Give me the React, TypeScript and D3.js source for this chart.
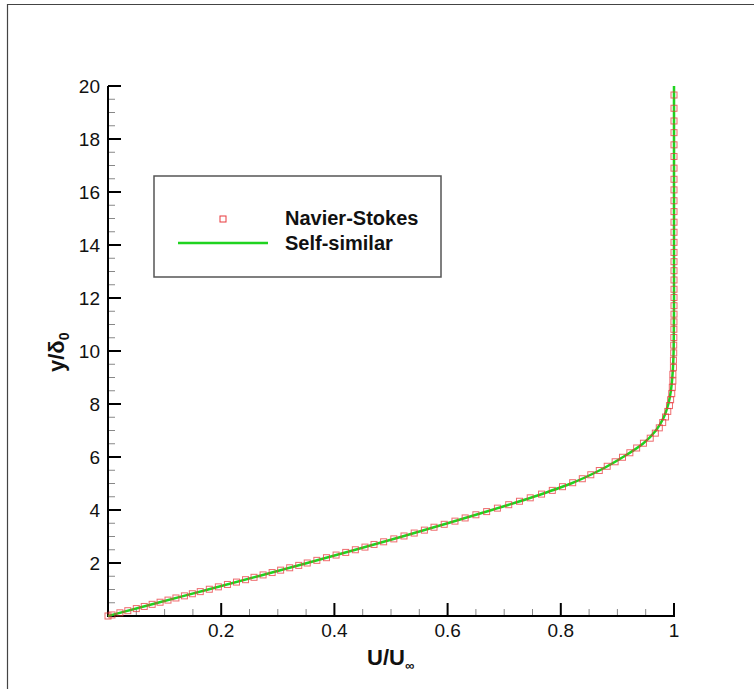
import React from "react";
import * as d3 from "d3";

// Navier-Stokes samples (y/delta0, U/Uinf)
const nsY = [0, 0.04, 0.12, 0.2, 0.28, 0.36, 0.44, 0.52, 0.6, 0.68, 0.76, 0.84, 0.92, 1.01, 1.1, 1.19, 1.28, 1.37, 1.46, 1.55, 1.64, 1.73, 1.82, 1.91, 2.0, 2.1, 2.2, 2.3, 2.4, 2.5, 2.6, 2.7, 2.8, 2.91, 3.02, 3.13, 3.24, 3.35, 3.46, 3.58, 3.7, 3.82, 3.94, 4.07, 4.2, 4.33, 4.46, 4.6, 4.74, 4.88, 5.03, 5.18, 5.33, 5.49, 5.65, 5.82, 5.99, 6.16, 6.34, 6.52, 6.71, 6.9, 7.1, 7.3, 7.51, 7.72, 7.94, 8.16, 8.39, 8.63, 8.87, 9.12, 9.38, 9.65, 9.93, 10.22, 10.51, 10.82, 11.1, 11.39, 11.71, 12.02, 12.33, 12.68, 13.03, 13.37, 13.72, 14.1, 14.48, 14.86, 15.26, 15.67, 16.08, 16.48, 16.9, 17.34, 17.78, 18.24, 18.68, 19.16, 19.66];
const nsU = [0, 0.007, 0.021, 0.035, 0.05, 0.064, 0.078, 0.092, 0.106, 0.12, 0.135, 0.149, 0.163, 0.179, 0.195, 0.211, 0.227, 0.243, 0.258, 0.274, 0.29, 0.305, 0.321, 0.337, 0.352, 0.369, 0.386, 0.403, 0.42, 0.437, 0.454, 0.47, 0.487, 0.505, 0.523, 0.541, 0.559, 0.576, 0.594, 0.613, 0.631, 0.65, 0.669, 0.688, 0.708, 0.727, 0.746, 0.766, 0.785, 0.803, 0.821, 0.838, 0.853, 0.868, 0.882, 0.896, 0.909, 0.922, 0.934, 0.946, 0.958, 0.967, 0.974, 0.98, 0.985, 0.989, 0.992, 0.994, 0.996, 0.997, 0.998, 0.998, 0.999, 0.999, 0.9995, 0.9995, 0.9997, 0.9998, 0.9999, 1, 1, 1, 1, 1, 1, 1, 1, 1, 1, 1, 1, 1, 1, 1, 1, 1, 1, 1, 1, 1, 1];

// Self-similar solution (y/delta0, U/Uinf)
const ssY = [0, 0.5, 1.0, 1.5, 2.0, 2.5, 3.0, 3.5, 4.0, 4.5, 5.0, 5.5, 6.0, 6.5, 7.0, 7.5, 8.0, 8.5, 9.0, 9.5, 10, 11, 12, 14, 16, 18, 20];
const ssU = [0, 0.088, 0.177, 0.265, 0.352, 0.437, 0.52, 0.6, 0.678, 0.752, 0.818, 0.869, 0.91, 0.945, 0.968, 0.982, 0.99, 0.9945, 0.997, 0.9985, 0.9993, 0.9998, 1, 1, 1, 1, 1];

const xTicks = [0.2, 0.4, 0.6, 0.8, 1];
const xTickLabels = ["0.2", "0.4", "0.6", "0.8", "1"];
const yTicks = [2, 4, 6, 8, 10, 12, 14, 16, 18, 20];
const yTickLabels = ["2", "4", "6", "8", "10", "12", "14", "16", "18", "20"];
const legendLabels = ["Navier-Stokes", "Self-similar"];

const FONT = "'Liberation Sans', Arial, Helvetica, sans-serif";

export default function App() {
  const x = d3.scaleLinear().domain([0, 1]).range([108, 674]);
  const y = d3.scaleLinear().domain([0, 20]).range([616, 86]);

  const xMinor = d3.range(0, 1.0001, 0.05).filter((v) => Math.abs(v * 5 - Math.round(v * 5)) > 1e-6);
  const yMinor = d3.range(0, 20.0001, 0.5).filter((v) => Math.abs(v / 2 - Math.round(v / 2)) > 1e-6);

  const line = d3
    .line<number>()
    .x((_, i) => x(ssU[i]))
    .y((v) => y(v))
    .curve(d3.curveMonotoneY);

  const ms = 6;
  const red = "#e8383c";
  const green = "#1fd31f";

  return (
    <svg
      width={754}
      height={689}
      style={{ position: "absolute", left: 0, top: 0, background: "#fff" }}
      fontFamily={FONT}
    >
      {/* outer frame (left/top only visible) */}
      <path d="M7.5,689 L7.5,4.5 L754,4.5" fill="none" stroke="#444" strokeWidth={1.2} />

      {/* minor ticks */}
      {xMinor.map((v, i) => (
        <line key={"xm" + i} x1={x(v)} x2={x(v)} y1={y(0)} y2={y(0) - 7} stroke="#888" strokeWidth={1} />
      ))}
      {yMinor.map((v, i) => (
        <line key={"ym" + i} x1={x(0)} x2={x(0) + 7} y1={y(v)} y2={y(v)} stroke="#888" strokeWidth={1} />
      ))}
      {/* major ticks */}
      {xTicks.map((v, i) => (
        <line key={"xM" + i} x1={x(v)} x2={x(v)} y1={y(0)} y2={y(0) - 13} stroke="#000" strokeWidth={2} />
      ))}
      {yTicks.map((v, i) => (
        <line key={"yM" + i} x1={x(0)} x2={x(0) + 13} y1={y(v)} y2={y(v)} stroke="#000" strokeWidth={2} />
      ))}
      {/* axes */}
      <line x1={x(0)} x2={x(1) + 1} y1={y(0)} y2={y(0)} stroke="#000" strokeWidth={2} />
      <line x1={x(0)} x2={x(0)} y1={y(0) + 1} y2={y(20)} stroke="#000" strokeWidth={2} />

      {/* tick labels */}
      {xTicks.map((v, i) => (
        <text key={"xl" + i} x={x(v)} y={637} textAnchor="middle" fontSize={19} fill="#111">
          {xTickLabels[i]}
        </text>
      ))}
      {yTicks.map((v, i) => (
        <text key={"yl" + i} x={100} y={y(v) + 7} textAnchor="end" fontSize={19} fill="#111">
          {yTickLabels[i]}
        </text>
      ))}

      {/* axis titles */}
      <text x={367} y={665} fontSize={22} fontWeight="bold" fill="#111">
        U/U
        <tspan fontSize={13} dy={5}>
          ∞
        </tspan>
      </text>
      <text transform="translate(64,372) rotate(-90)" fontSize={22} fontWeight="bold" fill="#111">
        y/δ
        <tspan fontSize={14} dy={5}>
          0
        </tspan>
      </text>

      {/* self-similar line */}
      <path d={line(ssY) || ""} fill="none" stroke={green} strokeWidth={2.5} />

      {/* Navier-Stokes markers */}
      {nsY.map((v, i) => (
        <rect
          key={"m" + i}
          x={x(nsU[i]) - ms / 2}
          y={y(v) - ms / 2}
          width={ms}
          height={ms}
          fill="none"
          stroke={red}
          strokeOpacity={0.75}
          strokeWidth={1}
        />
      ))}

      {/* legend */}
      <rect x={154} y={176} width={287} height={101} fill="#fff" stroke="#555" strokeWidth={1.5} />
      <rect x={223 - ms / 2} y={219 - ms / 2} width={ms} height={ms} fill="none" stroke={red} strokeWidth={1} />
      <line x1={178} x2={268} y1={243} y2={243} stroke={green} strokeWidth={2.5} />
      <text x={285} y={225} fontSize={20} fontWeight="bold" fill="#111">
        {legendLabels[0]}
      </text>
      <text x={285} y={250} fontSize={20} fontWeight="bold" fill="#111">
        {legendLabels[1]}
      </text>
    </svg>
  );
}
